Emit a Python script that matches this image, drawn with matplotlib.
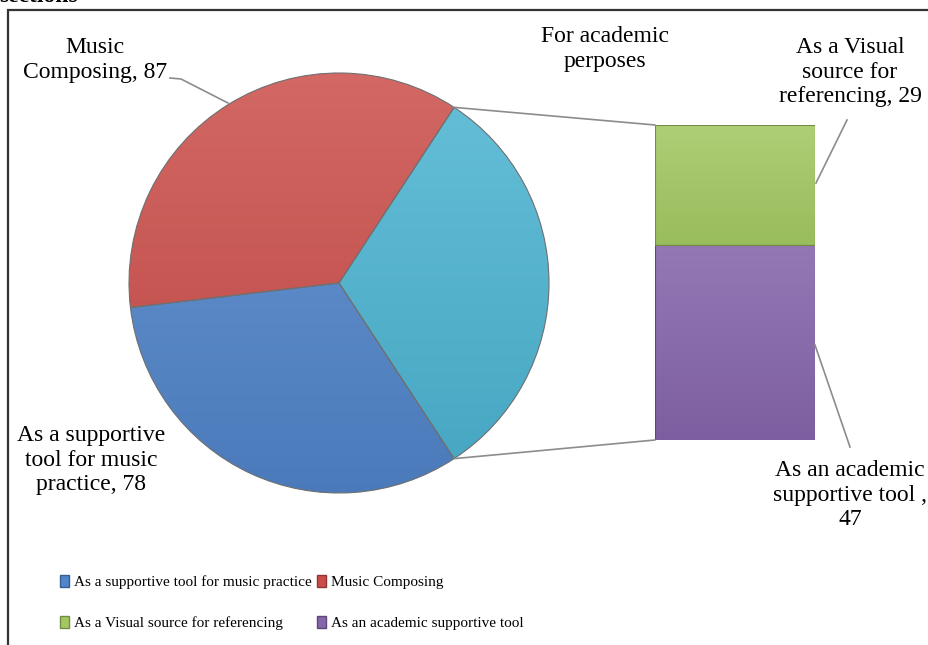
import numpy as np
import matplotlib
matplotlib.use("Agg")
import matplotlib.pyplot as plt
from matplotlib.patches import ConnectionPatch, Rectangle
from matplotlib.colors import to_rgb

# ---- data ----
pie_labels = ["For academic\nperposes", "Music\nComposing, 87", "As a supportive\ntool for music\npractice, 78"]
bar_categories = ["As an academic supportive tool", "As a Visual source for referencing"]
bar_values = [47, 29]
music_composing = 87
music_practice = 78
pie_values = [sum(bar_values), music_composing, music_practice]
legend_labels = ["As a supportive tool for music practice", "Music Composing",
                 "As a Visual source for referencing", "As an academic supportive tool"]
bar_labels = ["As an academic\nsupportive tool ,\n47", "As a Visual\nsource for\nreferencing, 29"]

pie_colors = ["#4BB4D2", "#CB4D49", "#5185CB"]
bar_colors = ["#8565AB", "#A3C862"]

W, H = 929, 645
fig = plt.figure(figsize=(W / 100, H / 100), dpi=100)
fig.patch.set_facecolor("white")

serif = ["Liberation Serif", "DejaVu Serif"]

# overlay axes in pixel coordinates (y downward)
ov = fig.add_axes([0, 0, 1, 1])
ov.set_xlim(0, W)
ov.set_ylim(H, 0)
ov.axis("off")
ov.set_zorder(5)
ov.patch.set_alpha(0)


def px_axes(x0, y0, w, h):
    return fig.add_axes([x0 / W, 1 - (y0 + h) / H, w / W, h / H])


def shade(c, f):
    r = np.array(to_rgb(c))
    if f >= 0:
        return tuple(r + (1 - r) * f)
    return tuple(r * (1 + f))


# ---- pie ----
cx, cy, R = 339, 283, 210
pax = px_axes(cx - R, cy - R, 2 * R, 2 * R)
frac0 = pie_values[0] / sum(pie_values)
start = -180 * frac0
wedges, _ = pax.pie(pie_values, colors=pie_colors, startangle=start, counterclock=True,
                    radius=1, wedgeprops=dict(linewidth=0.8, edgecolor="#6f6f6f"))
pax.set_xlim(-1, 1)
pax.set_ylim(-1, 1)
pax.set_aspect("equal")
pax.axis("off")

# vertical gradient inside each wedge
yy = np.linspace(1, -1, 256)[:, None] * np.ones((1, 2))
for w, c in zip(wedges, pie_colors):
    top, bot = np.array(shade(c, 0.15)), np.array(shade(c, -0.08))
    t = (1 - yy) / 2
    img = top[None, None, :] * (1 - t[..., None]) + bot[None, None, :] * t[..., None]
    im = pax.imshow(img, extent=(-1, 1, -1, 1), zorder=w.get_zorder() + 0.1, aspect="auto")
    im.set_clip_path(w)
    w.set_zorder(w.get_zorder() + 0.2)
    w.set_facecolor("none")

# ---- stacked bar ----
bx0, bx1, by0, by1 = 655, 815, 125, 440
bax = px_axes(bx0, by0, bx1 - bx0, by1 - by0)
total = sum(bar_values)
bottom = 0
rects = []
for v, c in zip(bar_values, bar_colors):
    r = bax.bar(0, v, bottom=bottom, width=1, color=c, edgecolor=shade(c, -0.3), linewidth=0.8)[0]
    rects.append(r)
    bottom += v
for r, c in zip(rects, bar_colors):
    y0, h = r.get_y(), r.get_height()
    t = np.linspace(0, 1, 64)[:, None, None] * np.ones((1, 2, 1))
    top, bot = np.array(shade(c, 0.12)), np.array(shade(c, -0.06))
    img = top[None, None, :] * (1 - t) + bot[None, None, :] * t
    im = bax.imshow(img, extent=(-0.5, 0.5, y0, y0 + h), aspect="auto", zorder=r.get_zorder() + 0.1)
    im.set_clip_path(r)
    r.set_facecolor("none")
    r.set_zorder(r.get_zorder() + 0.2)
bax.set_xlim(-0.5, 0.5)
bax.set_ylim(0, total)
bax.axis("off")

# connector lines between the academic slice and the bar
ang_a = np.deg2rad(start + 360 * frac0)
ang_b = np.deg2rad(start)
for (ax_, ay_), yb in [((np.cos(ang_a), np.sin(ang_a)), total), ((np.cos(ang_b), np.sin(ang_b)), 0)]:
    con = ConnectionPatch(xyA=(ax_, ay_), coordsA=pax.transData, xyB=(-0.5, yb),
                          coordsB=bax.transData, color="#8c8c8c", linewidth=1.2)
    fig.add_artist(con)

# ---- labels ----
fs = 17
ls = 1.22
kw = dict(ha="center", va="center", fontsize=fs, family=serif, linespacing=ls)
ov.text(95, 60, pie_labels[1], **kw)
ov.text(605, 49, pie_labels[0], **kw)
ov.text(91, 460, pie_labels[2], **kw)
ov.text(850, 72, bar_labels[1], **kw)
ov.text(850, 495, bar_labels[0], **kw)

lc = "#8c8c8c"
ov.plot([170, 181, 228], [78, 79, 103], color=lc, lw=1.2)
ov.plot([847, 816], [120, 183], color=lc, lw=1.2)
ov.plot([815, 850], [345, 447], color=lc, lw=1.2)

# ---- legend ----
handles = [Rectangle((0, 0), 1, 1, facecolor=pie_colors[2], edgecolor=shade(pie_colors[2], -0.3)),
           Rectangle((0, 0), 1, 1, facecolor=bar_colors[1], edgecolor=shade(bar_colors[1], -0.3)),
           Rectangle((0, 0), 1, 1, facecolor=pie_colors[1], edgecolor=shade(pie_colors[1], -0.3)),
           Rectangle((0, 0), 1, 1, facecolor=bar_colors[0], edgecolor=shade(bar_colors[0], -0.3))]
order = [legend_labels[0], legend_labels[2], legend_labels[1], legend_labels[3]]
leg = fig.legend(handles, order, ncol=2, loc="upper left", bbox_to_anchor=(60 / W, 1 - 575 / H),
                 frameon=False, prop=dict(family=serif, size=11),
                 handlelength=0.6, handleheight=0.85, handletextpad=0.3, columnspacing=0.35,
                 labelspacing=1.75, borderpad=0, borderaxespad=0)

# ---- frame & cut-off heading ----
ov.plot([8, 8, W + 5], [H + 5, 10, 10], color="#333333", lw=1.6, solid_joinstyle="miter")
ov.text(-1, 2, "sections", ha="left", va="baseline", fontsize=17, family=serif, fontweight="bold")

fig.savefig("out.png", dpi=100, facecolor="white")
